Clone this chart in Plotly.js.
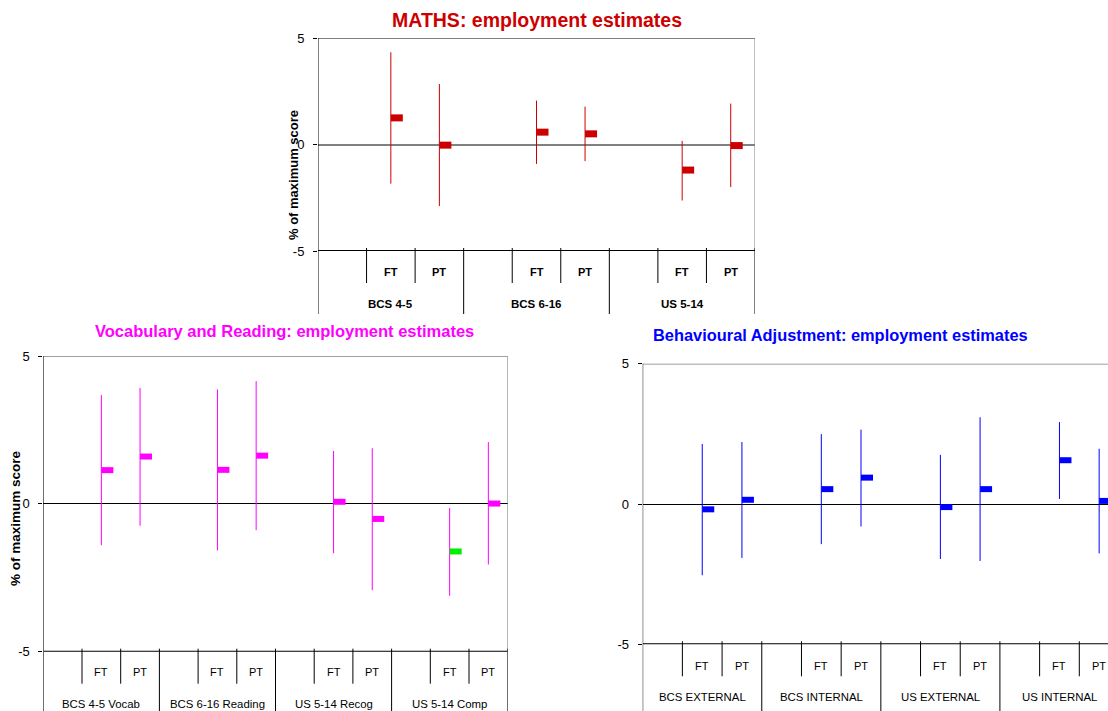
<!DOCTYPE html>
<html>
<head>
<meta charset="utf-8">
<script src="https://cdn.plot.ly/plotly-3.0.1.min.js"></script>
<style>
html,body{margin:0;padding:0;overflow:hidden;background:#fff;}
#chart{width:1130px;height:711px;}
</style>
</head>
<body>
<div id="chart"></div>
<script>
// ---------------- DATA ----------------
const subLabels = ['FT', 'PT'];

const mathsGroups = ['BCS 4-5', 'BCS 6-16', 'US 5-14'];
const mathsMean  = [1.25, -0.03, 0.58, 0.50, -1.20, -0.05];
const mathsUpper = [4.33, 2.84, 2.06, 1.78, 0.17, 1.92];
const mathsLower = [-1.84, -2.89, -0.91, -0.78, -2.63, -2.00];

const vocabGroups = ['BCS 4-5 Vocab', 'BCS 6-16 Reading', 'US 5-14 Recog', 'US 5-14 Comp'];
const vocabMean  = [1.14, 1.60, 1.15, 1.63, 0.07, -0.51, -1.61, 0.01];
const vocabUpper = [3.68, 3.92, 3.87, 4.15, 1.79, 1.88, -0.14, 2.09];
const vocabLower = [-1.40, -0.74, -1.57, -0.89, -1.67, -2.92, -3.11, -2.05];

const behavGroups = ['BCS EXTERNAL', 'BCS INTERNAL', 'US EXTERNAL', 'US INTERNAL'];
const behavMean  = [-0.19, 0.15, 0.53, 0.94, -0.11, 0.53, 1.56, 0.11];
const behavUpper = [2.14, 2.21, 2.49, 2.65, 1.75, 3.09, 2.92, 1.97];
const behavLower = [-2.54, -1.92, -1.43, -0.80, -1.96, -2.03, 0.18, -1.76];

const yTickVals = [-5, 0, 5];
const yTickText = ['-5', '0', '5'];
const yTitleText = '% of maximum score';

// ---------------- STYLE ----------------
const W = 1130, H = 711;
const FONT = 'Liberation Sans, Arial, sans-serif';
const px2x = p => p / W;
const px2y = p => 1 - p / H;
const DASH_LEN = 12;                 // dash length in px
const DASH_SIZE = DASH_LEN / 1.4;    // plotly line-ew length = 1.4 * size

const traces = [], shapes = [], annotations = [];
const layout = {
  width: W, height: H,
  margin: {l: 0, r: 0, t: 0, b: 0},
  paper_bgcolor: '#fff', plot_bgcolor: 'rgba(0,0,0,0)',
  showlegend: false, hovermode: false,
  font: {family: FONT, color: '#000'}
};

function panel(n, groups, mean, upper, lower, st) {
  const xa = n === 1 ? 'x' : 'x' + n;
  const ya = n === 1 ? 'y' : 'y' + n;
  const xk = n === 1 ? 'xaxis' : 'xaxis' + n;
  const yk = n === 1 ? 'yaxis' : 'yaxis' + n;
  const nG = groups.length;
  const R = 3 * nG - 0.5;
  const slotPx = (st.right - st.left) / (3 * nG);
  const shift = (DASH_LEN / 2) / slotPx;
  const pos = [];
  groups.forEach((g, gi) => subLabels.forEach((s, si) => pos.push(3 * gi + 1 + si)));

  layout[xk] = {
    domain: [px2x(st.left), px2x(st.right)], range: [-0.5, R], anchor: ya,
    showgrid: false, zeroline: false, showline: false, showticklabels: false, ticks: '', fixedrange: true
  };
  layout[yk] = {
    domain: [px2y(st.bottom), px2y(st.top)], range: [-5, 5], anchor: xa,
    showgrid: false, showline: false,
    zeroline: true, zerolinecolor: st.zeroColor, zerolinewidth: st.zeroWidth,
    tickvals: yTickVals, ticktext: yTickText,
    ticks: 'outside', ticklen: 4, tickwidth: 1, tickcolor: '#000',
    ticklabelstandoff: 6,
    tickfont: {family: FONT, size: 13, color: '#000'}, fixedrange: true
  };

  // confidence interval lines
  traces.push({
    type: 'scatter', mode: 'markers', x: pos, y: mean, xaxis: xa, yaxis: ya,
    marker: {size: 1, color: 'rgba(0,0,0,0)'},
    error_y: {type: 'data', symmetric: false,
      array: upper.map((u, i) => u - mean[i]),
      arrayminus: mean.map((m, i) => m - lower[i]),
      width: 0, thickness: 1, color: st.lineColor},
    hoverinfo: 'skip'
  });
  // point estimate dashes
  traces.push({
    type: 'scatter', mode: 'markers', x: pos.map(p => p + shift), y: mean, xaxis: xa, yaxis: ya,
    marker: {symbol: 'line-ew', size: DASH_SIZE, color: st.dashColors,
      line: {width: st.dashW, color: st.dashColors}},
    hoverinfo: 'skip', cliponaxis: false
  });

  const axisPx = st.bottom;
  // frame
  shapes.push({type: 'line', xref: xa, yref: ya, x0: -0.5, x1: R, y0: 5, y1: 5, line: {color: '#808080', width: st.topW}});
  shapes.push({type: 'line', xref: xa, yref: ya, x0: R, x1: R, y0: -5, y1: 5, line: {color: '#808080', width: 1}});
  shapes.push({type: 'line', xref: xa, yref: ya, x0: -0.5, x1: R, y0: -5, y1: -5, line: {color: '#000', width: 2}});
  shapes.push({type: 'line', xref: xa, yref: 'paper', x0: -0.5, x1: -0.5, y0: px2y(st.top), y1: px2y(st.labelBottom), line: {color: '#000', width: 1}});
  shapes.push({type: 'line', xref: xa, yref: 'paper', x0: R, x1: R, y0: px2y(axisPx - 3), y1: px2y(st.labelBottom), line: {color: '#000', width: 1}});
  // category ticks & dividers
  for (let g = 0; g < nG; g++) {
    [0.5, 1.5].forEach(o => shapes.push({type: 'line', xref: xa, yref: 'paper', x0: 3 * g + o, x1: 3 * g + o,
      y0: px2y(axisPx - 3), y1: px2y(axisPx + 32), line: {color: '#000', width: 1}}));
    if (g < nG - 1) shapes.push({type: 'line', xref: xa, yref: 'paper', x0: 3 * g + 2.5, x1: 3 * g + 2.5,
      y0: px2y(axisPx - 3), y1: px2y(st.labelBottom), line: {color: '#000', width: 1}});
    annotations.push({xref: xa, yref: 'paper', x: 3 * g + 1, y: px2y(st.groupLabelPx), text: groups[g],
      showarrow: false, xanchor: 'center', yanchor: 'middle',
      font: {family: FONT, size: st.groupSize, color: '#000', weight: st.labelWeight}});
  }
  pos.forEach((p, i) => annotations.push({xref: xa, yref: 'paper', x: p, y: px2y(st.subLabelPx),
    text: subLabels[i % 2], showarrow: false, xanchor: 'center', yanchor: 'middle',
    font: {family: FONT, size: st.labelSize, color: '#000', weight: st.labelWeight}}));

  // title
  annotations.push({xref: 'paper', yref: 'paper', x: px2x(st.titleX), y: px2y(st.titleY), text: st.title,
    showarrow: false, xanchor: 'center', yanchor: 'middle',
    font: {family: FONT, size: st.titleSize, color: st.titleColor, weight: 'bold'}});
  if (st.yTitleX !== undefined) {
    annotations.push({xref: 'paper', yref: 'paper', x: px2x(st.yTitleX), y: px2y(st.yTitleY), text: yTitleText,
      showarrow: false, textangle: -90, xanchor: 'center', yanchor: 'middle',
      font: {family: FONT, size: st.yTitleSize, color: '#000', weight: 'bold'}});
  }
}

panel(1, mathsGroups, mathsMean, mathsUpper, mathsLower, {
  left: 318, right: 755, top: 38, bottom: 251, labelBottom: 314,
  subLabelPx: 272, groupLabelPx: 304, labelSize: 11, groupSize: 11.5, labelWeight: 'bold',
  lineColor: '#cc0000', dashColors: mathsMean.map(() => '#cc0000'), dashW: 7,
  zeroColor: '#808080', zeroWidth: 2, topW: 2,
  title: 'MATHS: employment estimates', titleX: 537, titleY: 20, titleSize: 19.5, titleColor: '#cc0000',
  yTitleX: 294, yTitleY: 175, yTitleSize: 13
});

panel(2, vocabGroups, vocabMean, vocabUpper, vocabLower, {
  left: 43.3, right: 507.7, top: 356, bottom: 651.7, labelBottom: 720,
  subLabelPx: 672, groupLabelPx: 703.5, labelSize: 11, groupSize: 11.4, labelWeight: 'normal',
  lineColor: '#ff00ff', dashColors: vocabMean.map((m, i) => i === 6 ? '#00ee00' : '#ff00ff'), dashW: 6,
  zeroColor: '#000', zeroWidth: 1, topW: 1.5,
  title: 'Vocabulary and Reading: employment estimates', titleX: 284, titleY: 330.5, titleSize: 16.5, titleColor: '#ff00ff',
  yTitleX: 15, yTitleY: 518, yTitleSize: 13.5
});

panel(3, behavGroups, behavMean, behavUpper, behavLower, {
  left: 642.7, right: 1119, top: 363.7, bottom: 644.3, labelBottom: 720,
  subLabelPx: 666, groupLabelPx: 697, labelSize: 11, groupSize: 11.4, labelWeight: 'normal',
  lineColor: '#0000ff', dashColors: behavMean.map(() => '#0000ff'), dashW: 6,
  zeroColor: '#000', zeroWidth: 1, topW: 1.5,
  title: 'Behavioural Adjustment: employment estimates', titleX: 840, titleY: 335, titleSize: 16.4, titleColor: '#0000ff'
});

layout.shapes = shapes;
layout.annotations = annotations;

Plotly.newPlot('chart', traces, layout, {staticPlot: true, displayModeBar: false});
</script>
</body>
</html>
